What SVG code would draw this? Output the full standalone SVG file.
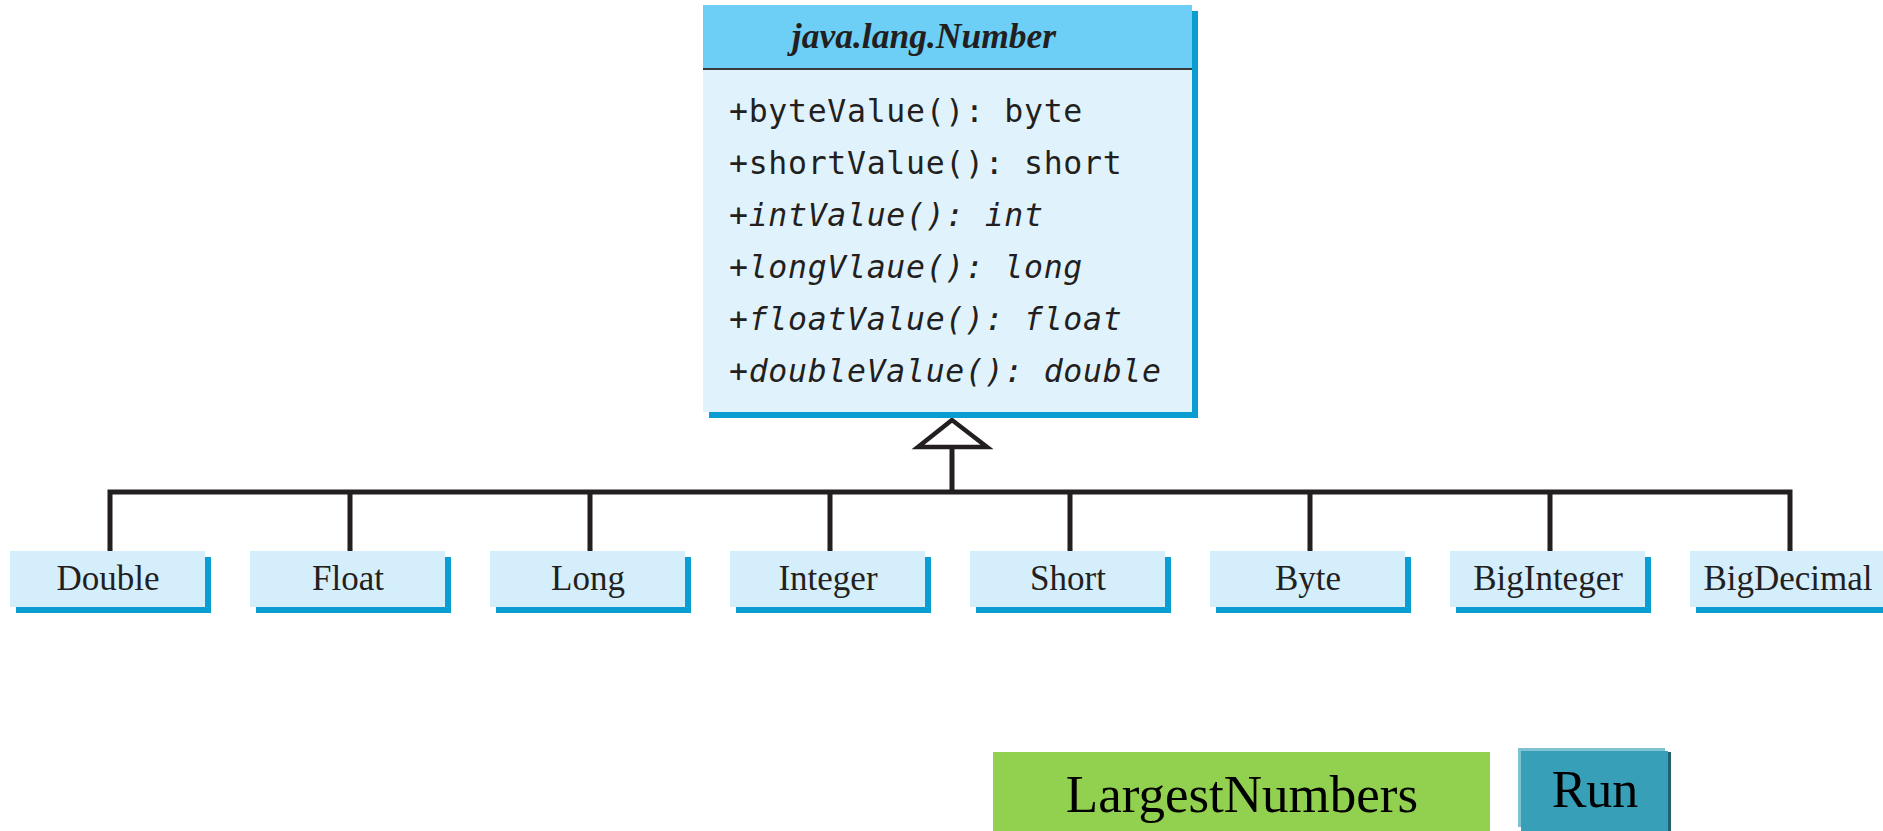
<svg xmlns="http://www.w3.org/2000/svg" width="1883" height="831" viewBox="0 0 1883 831">
<defs>
<style>
.shadow{fill:#0a9dd1}
.cbox{fill:#d4eefc}
.ctext{font-family:"Liberation Serif","Times New Roman",serif;font-size:35px;fill:#231f20;text-anchor:middle}
.method{font-family:"DejaVu Sans Mono","Liberation Mono",monospace;font-size:31.5px;letter-spacing:0.7px;fill:#231f20}
.it{font-style:italic}
.conn{stroke:#231f20;stroke-width:5;fill:none}
</style>
</defs>
<rect width="1883" height="831" fill="#ffffff"/>
<g id="connectors">
<path class="conn" d="M110 551 V492 H1790 V551"/>
<path class="conn" d="M350 492 V551 M590 492 V551 M830 492 V551 M1070 492 V551 M1310 492 V551 M1550 492 V551"/>
<path class="conn" d="M952 492 V449"/>
<polygon points="952,420 918,447 987,447" fill="#ffffff" stroke="#231f20" stroke-width="4.5"/>
</g>
<g id="number">
<rect x="709" y="11" width="489" height="407" class="shadow"/>
<rect x="703" y="5" width="489" height="407" fill="#e0f3fd"/>
<rect x="703" y="5" width="489" height="64" fill="#6dcff6"/>
<line x1="703" y1="69" x2="1192" y2="69" stroke="#3a3a3a" stroke-width="2"/>
<text x="924" y="48" text-anchor="middle" font-family="Liberation Serif,'Times New Roman',serif" font-weight="bold" font-style="italic" font-size="35.5" fill="#231f20">java.lang.Number</text>
<text x="729" y="122" class="method">+byteValue(): byte</text>
<text x="729" y="174" class="method">+shortValue(): short</text>
<text x="729" y="226" class="method it">+intValue(): int</text>
<text x="729" y="278" class="method it">+longVlaue(): long</text>
<text x="729" y="330" class="method it">+floatValue(): float</text>
<text x="729" y="382" class="method it">+doubleValue(): double</text>
</g>
<g id="double"><rect x="16" y="557" width="195" height="56" class="shadow"/><rect x="10" y="551" width="195" height="56" class="cbox"/><text x="108" y="590" class="ctext">Double</text></g>
<g id="float"><rect x="256" y="557" width="195" height="56" class="shadow"/><rect x="250" y="551" width="195" height="56" class="cbox"/><text x="348" y="590" class="ctext">Float</text></g>
<g id="long"><rect x="496" y="557" width="195" height="56" class="shadow"/><rect x="490" y="551" width="195" height="56" class="cbox"/><text x="588" y="590" class="ctext">Long</text></g>
<g id="integer"><rect x="736" y="557" width="195" height="56" class="shadow"/><rect x="730" y="551" width="195" height="56" class="cbox"/><text x="828" y="590" class="ctext">Integer</text></g>
<g id="short"><rect x="976" y="557" width="195" height="56" class="shadow"/><rect x="970" y="551" width="195" height="56" class="cbox"/><text x="1068" y="590" class="ctext">Short</text></g>
<g id="byte"><rect x="1216" y="557" width="195" height="56" class="shadow"/><rect x="1210" y="551" width="195" height="56" class="cbox"/><text x="1308" y="590" class="ctext">Byte</text></g>
<g id="biginteger"><rect x="1456" y="557" width="195" height="56" class="shadow"/><rect x="1450" y="551" width="195" height="56" class="cbox"/><text x="1548" y="590" class="ctext">BigInteger</text></g>
<g id="bigdecimal"><rect x="1696" y="557" width="195" height="56" class="shadow"/><rect x="1690" y="551" width="195" height="56" class="cbox"/><text x="1788" y="590" class="ctext">BigDecimal</text></g>
<g id="largestnumbers">
<rect x="993" y="752" width="497" height="79" fill="#92d050"/>
<text x="1242" y="812" text-anchor="middle" font-family="Liberation Serif,'Times New Roman',serif" font-size="53" fill="#000000">LargestNumbers</text>
</g>
<g id="run">
<rect x="1521" y="752" width="150" height="79" fill="#22606f"/>
<rect x="1518" y="748" width="147" height="79" fill="#7fc3d3"/>
<rect x="1521" y="751" width="147" height="80" fill="#37a0b8"/>
<text x="1595" y="807" text-anchor="middle" font-family="Liberation Serif,'Times New Roman',serif" font-size="52" fill="#000000">Run</text>
</g>
</svg>
